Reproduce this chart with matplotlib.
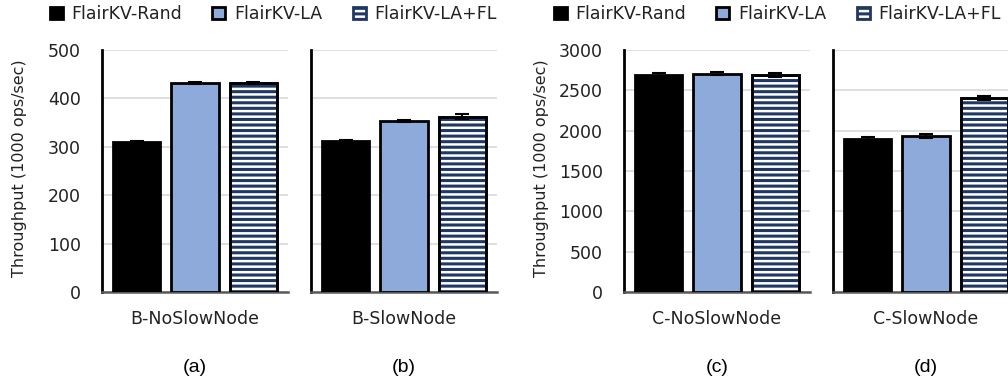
import matplotlib
matplotlib.use("Agg")
import matplotlib.pyplot as plt
import numpy as np

plt.rcParams['font.family'] = ['DejaVu Sans']
plt.rcParams['hatch.linewidth'] = 2.2

series = ["FlairKV-Rand", "FlairKV-LA", "FlairKV-LA+FL"]
categories = ["B-NoSlowNode", "B-SlowNode", "C-NoSlowNode", "C-SlowNode"]
panel_tags = ["(a)", "(b)", "(c)", "(d)"]
values = {
    "B-NoSlowNode": [310, 432, 432],
    "B-SlowNode": [311, 353, 362],
    "C-NoSlowNode": [2685, 2705, 2690],
    "C-SlowNode": [1900, 1935, 2405],
}
errors = {
    "B-NoSlowNode": [3, 2, 2],
    "B-SlowNode": [3, 2, 5],
    "C-NoSlowNode": [25, 20, 20],
    "C-SlowNode": [25, 25, 20],
}
ylims = [500, 500, 3000, 3000]
yticks = [[0, 100, 200, 300, 400, 500]] * 2 + [[0, 500, 1000, 1500, 2000, 2500, 3000]] * 2

colors = ["black", "#8eaadb", "white"]
hatches = [None, None, "---"]
navy = "#1f3864"
txt = "#222222"

fig = plt.figure(figsize=(10.08, 3.83), dpi=100)
lefts_px = [102, 311, 624, 833]
W, H = 1008, 383
ax_w = 186
bottom_px, top_px = 292, 50

handles = None
for i, cat in enumerate(categories):
    ax = fig.add_axes([lefts_px[i] / W, (H - bottom_px) / H, ax_w / W, (bottom_px - top_px) / H])
    x = np.arange(3)
    bars = []
    for j in range(3):
        b = ax.bar(x[j], values[cat][j], width=0.81, color=colors[j], edgecolor="black",
                   linewidth=2.0, hatch=hatches[j], zorder=3)
        if hatches[j]:
            for p in b:
                p.set_edgecolor(navy)
            ax.bar(x[j], values[cat][j], width=0.81, color="none", edgecolor="black",
                   linewidth=2.0, zorder=4)
        ax.errorbar(x[j], values[cat][j], yerr=errors[cat][j], fmt="none", ecolor="black",
                    elinewidth=1.5, capsize=5, capthick=1.5, zorder=5)
        bars.append(b)
    if handles is None:
        handles = bars
    ax.set_xlim(-0.6, 2.6)
    ax.set_ylim(0, ylims[i])
    ax.set_yticks(yticks[i])
    ax.grid(axis="y", color="#d9d9d9", linewidth=1.2, zorder=0)
    ax.set_axisbelow(True)
    for s in ["top", "right"]:
        ax.spines[s].set_visible(False)
    ax.spines["left"].set_color("black")
    ax.spines["left"].set_linewidth(2.0)
    ax.spines["bottom"].set_color("#595959")
    ax.spines["bottom"].set_linewidth(1.8)
    ax.tick_params(axis="y", length=0, labelsize=12.5, colors=txt, pad=15)
    ax.set_xticks([1])
    ax.set_xticklabels([cat], fontsize=12.5, color=txt)
    ax.tick_params(axis="x", length=0, pad=13)
    if i in (1, 3):
        ax.set_yticklabels([])
    if i in (0, 2):
        ax.set_ylabel("Throughput (1000 ops/sec)", fontsize=11.5, color=txt, va="center")
        ax.yaxis.set_label_coords(-0.445, 0.51)
    fig.text((lefts_px[i] + ax_w / 2) / W, (H - 367) / H, panel_tags[i], ha="center",
             va="center", fontsize=14, family=["Liberation Sans", "DejaVu Sans"])

for k, cx in enumerate([0.271, 0.771]):
    leg = fig.legend([h[0] for h in handles], series, loc="center", ncol=3,
                     bbox_to_anchor=(cx, (H - 14) / H), frameon=False, fontsize=12.5,
                     handlelength=0.75, handleheight=0.75, handletextpad=0.5,
                     columnspacing=1.75, labelcolor=txt)

fig.savefig("out.png", dpi=100)
